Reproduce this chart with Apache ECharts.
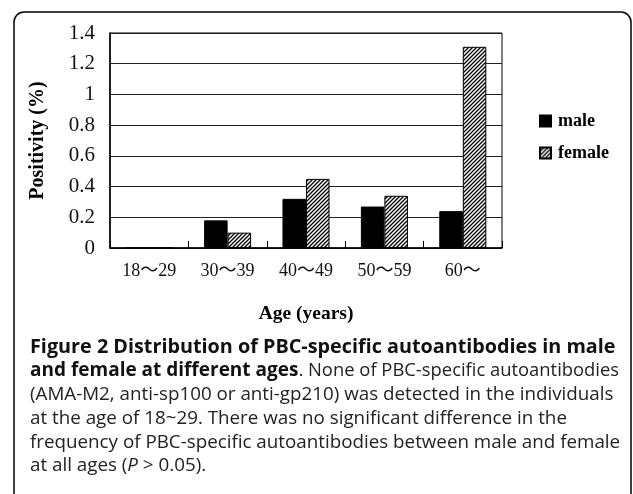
<!DOCTYPE html>
<html>
<head>
<meta charset="utf-8">
<script src="https://cdn.jsdelivr.net/npm/echarts@6/dist/echarts.min.js"></script>
<style>
html,body{margin:0;padding:0;background:#fff;}
#c{width:633px;height:494px;}
</style>
</head>
<body>
<div id="c"></div>
<script>
var categories = ['18～29', '30～39', '40～49', '50～59', '60～'];
var maleValues = [0, 0.18, 0.32, 0.27, 0.24];
var femaleValues = [0, 0.10, 0.45, 0.34, 1.31];
var seriesNames = ['male', 'female'];
var yTicks = { min: 0, max: 1.4, interval: 0.2 };

var serif = "'Liberation Serif', 'Noto Sans CJK SC', serif";
var sans = "'Open Sans', sans-serif";

function hatch() {
  var cv = document.createElement('canvas');
  cv.width = 4; cv.height = 4;
  var ctx = cv.getContext('2d');
  ctx.fillStyle = '#fff';
  ctx.fillRect(0, 0, 4, 4);
  ctx.strokeStyle = '#000';
  ctx.lineWidth = 1.3;
  ctx.beginPath();
  ctx.moveTo(-1, 5); ctx.lineTo(5, -1);
  ctx.moveTo(-1, 1); ctx.lineTo(1, -1);
  ctx.moveTo(3, 5); ctx.lineTo(5, 3);
  ctx.stroke();
  return cv;
}

var chart = echarts.init(document.getElementById('c'), null, { renderer: 'canvas' });
chart.setOption({
  backgroundColor: '#fff',
  animation: false,
  grid: { left: 110, right: 131, top: 33, bottom: 246, show: true, borderColor: '#000', borderWidth: 1 },
  legend: {
    orient: 'vertical', left: 534, top: 107,
    itemWidth: 11, itemHeight: 11, itemGap: 14,
    icon: 'rect',
    textStyle: { fontFamily: serif, fontWeight: 'bold', fontSize: 18, color: '#000', padding: [0, 0, 0, 2] },
    data: seriesNames
  },
  xAxis: {
    type: 'category',
    data: categories,
    name: 'Age (years)',
    nameLocation: 'middle',
    nameGap: 56,
    nameTextStyle: { fontFamily: serif, fontWeight: 'bold', fontSize: 19.5, color: '#000' },
    axisLine: { lineStyle: { color: '#000', width: 1.5 } },
    axisTick: { show: true, inside: true, length: 7, lineStyle: { color: '#000' } },
    axisLabel: { fontFamily: serif, fontSize: 18, color: '#111', margin: 14 }
  },
  yAxis: {
    type: 'value',
    min: yTicks.min, max: yTicks.max, interval: yTicks.interval,
    name: 'Positivity (%)',
    nameLocation: 'middle',
    nameGap: 62,
    nameTextStyle: { fontFamily: serif, fontWeight: 'bold', fontSize: 20, color: '#000' },
    axisLine: { show: true, lineStyle: { color: '#000', width: 1.5 } },
    axisTick: { show: false },
    splitLine: { lineStyle: { color: '#222', width: 1 } },
    axisLabel: {
      fontFamily: serif, fontSize: 21, color: '#111', margin: 15,
      formatter: function (v) { return String(Math.round(v * 10) / 10); }
    }
  },
  series: [
    {
      name: seriesNames[0], type: 'bar', data: maleValues,
      barGap: '0%', barCategoryGap: '40%',
      itemStyle: { color: '#000', borderColor: '#000', borderWidth: 1 }
    },
    {
      name: seriesNames[1], type: 'bar', data: femaleValues,
      barGap: '0%', barCategoryGap: '40%',
      itemStyle: { color: { image: hatch(), repeat: 'repeat' }, borderColor: '#000', borderWidth: 1 }
    }
  ],
  graphic: [
    {
      type: 'rect', z: -1, silent: true,
      shape: { x: 14, y: 12, width: 617, height: 520, r: 10 },
      style: { fill: 'none', stroke: '#000', lineWidth: 1.5 }
    },
    {
      type: 'text', left: 30, top: 337, silent: true,
      style: {
        text: '{b1|Figure 2 Distribution of PBC-specific autoantibodies in male}\n' +
              '{b|and female at different ages}{n2|. None of PBC-specific autoantibodies}\n' +
              '{n|(AMA-M2, anti-sp100 or anti-gp210) was detected in the individuals}\n' +
              '{n|at the age of 18~29. There was no significant difference in the}\n' +
              '{n|frequency of PBC-specific autoantibodies between male and female}\n' +
              '{n|at all ages (}{i|P}{n| > 0.05).}',
        fill: '#111',
        rich: {
          b1: { fontFamily: sans, fontWeight: 'bold', fontSize: 19.8, lineHeight: 23.8, fill: '#111' },
          b: { fontFamily: sans, fontWeight: 'bold', fontSize: 19, lineHeight: 23.8, fill: '#111' },
          n2: { fontFamily: sans, fontWeight: 'normal', fontSize: 18.4, lineHeight: 23.8, fill: '#222' },
          n: { fontFamily: sans, fontWeight: 'normal', fontSize: 18.8, lineHeight: 23.8, fill: '#222' },
          i: { fontFamily: sans, fontStyle: 'italic', fontSize: 18.8, lineHeight: 23.8, fill: '#222' }
        }
      }
    }
  ]
});
</script>
</body>
</html>
